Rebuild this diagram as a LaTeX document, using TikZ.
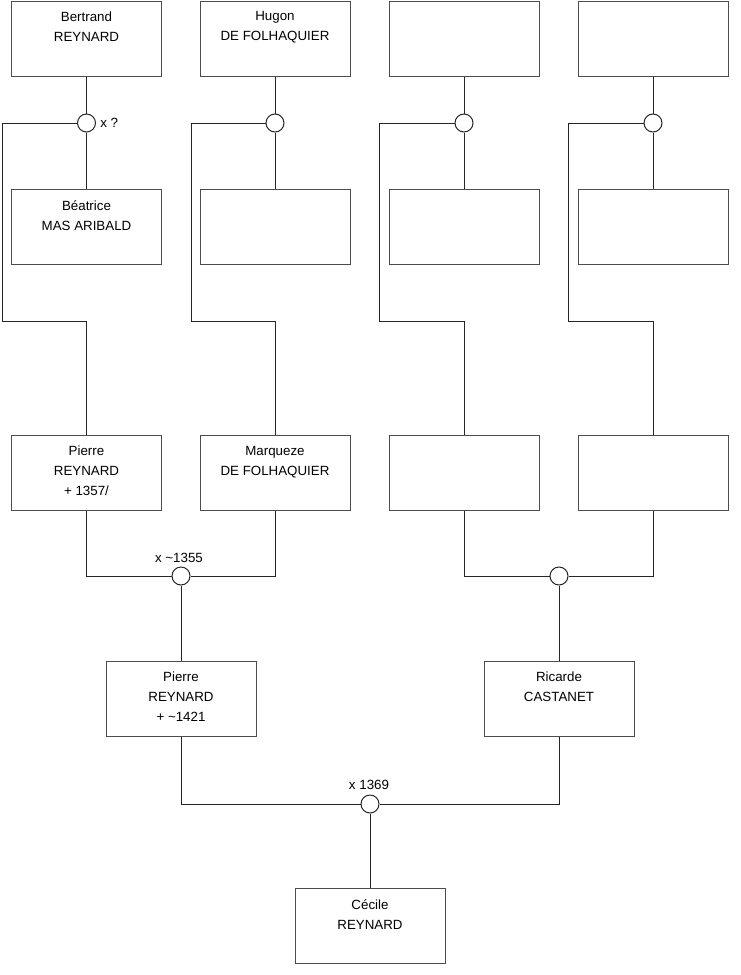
\documentclass[tikz,border=0pt]{standalone}
\usepackage{fontspec}
\setmainfont{Liberation Sans}
\begin{document}
\begin{tikzpicture}[x=0.75pt,y=-0.75pt,
  person/.style={draw=black!70,line width=0.75pt,minimum width=112.5pt,minimum height=56.25pt,inner sep=0pt},
  txt/.style={anchor=north,inner sep=0pt,align=center,font=\fontsize{10pt}{15pt}\selectfont,execute at begin node=\strut},
  lab/.style={inner sep=0pt,font=\fontsize{10pt}{15pt}\selectfont},
  union/.style={circle,draw=black!85,line width=0.75pt,minimum size=13.5pt,inner sep=0pt,fill=white},
  link/.style={draw=black!85,line width=0.75pt}]
\useasboundingbox (0,0) rectangle (740,975);
% row 1
\node[person] (a1) at (86.5,38.5) {};
\node[person] (a2) at (275,38.5) {};
\node[person] (a3) at (464,38.5) {};
\node[person] (a4) at (653,38.5) {};
% row 2
\node[person] (b1) at (86.5,227) {};
\node[person] (b2) at (275,227) {};
\node[person] (b3) at (464,227) {};
\node[person] (b4) at (653,227) {};
% row 3
\node[person] (c1) at (86.5,473) {};
\node[person] (c2) at (275,473) {};
\node[person] (c3) at (464,473) {};
\node[person] (c4) at (653,473) {};
% row 4
\node[person] (d1) at (181,699) {};
\node[person] (d2) at (559,699) {};
% final
\node[person] (e1) at (370,926) {};
% unions
\node[union] (u1) at (86.5,123) {};
\node[union] (u2) at (275,123) {};
\node[union] (u3) at (464,123) {};
\node[union] (u4) at (653,123) {};
\node[union] (v1) at (181,576) {};
\node[union] (v2) at (559,576) {};
\node[union] (w1) at (370,804) {};
% texts
\node[txt] (ta1) at ([yshift=-8.2pt]a1.north) {Bertrand\\REYNARD};
\node[txt] (ta2) at ([yshift=-8.2pt]a2.north) {Hugon\\DE FOLHAQUIER};
\node[txt] (tb1) at ([yshift=-8.2pt]b1.north) {Béatrice\\MAS ARIBALD};
\node[txt] (tc1) at ([yshift=-8.2pt]c1.north) {Pierre\\REYNARD\\+ 1357/};
\node[txt] (tc2) at ([yshift=-8.2pt]c2.north) {Marqueze\\DE FOLHAQUIER};
\node[txt] (td1) at ([yshift=-8.2pt]d1.north) {Pierre\\REYNARD\\+ \textasciitilde1421};
\node[txt] (td2) at ([yshift=-8.2pt]d2.north) {Ricarde\\CASTANET};
\node[txt] (te1) at ([yshift=-8.2pt]e1.north) {Cécile\\REYNARD};
% union labels
\node[lab,anchor=west] (lu1) at (100,123) {x ?};
\node[lab] (lv1) at (179,558) {x \textasciitilde1355};
\node[lab] (lw1) at (369,785) {x 1369};
% coordinates for bends
\coordinate (p1a) at (2,123);   \coordinate (p1b) at (2,321);   \coordinate (p1c) at (86.5,321);
\coordinate (p2a) at (191,123); \coordinate (p2b) at (191,321); \coordinate (p2c) at (275,321);
\coordinate (p3a) at (379,123); \coordinate (p3b) at (379,321); \coordinate (p3c) at (464,321);
\coordinate (p4a) at (568,123); \coordinate (p4b) at (568,321); \coordinate (p4c) at (653,321);
% row1 -> unions -> row2
\foreach \i in {1,2,3,4}{
  \draw[link] (a\i.south) -- (u\i.north);
  \draw[link] (u\i.south) -- (b\i.north);
  \draw[link] (u\i.west) -- (p\i a) -- (p\i b) -- (p\i c) -- (c\i.north);
}
% row3 -> unions
\draw[link] (c1.south) |- (v1.west);
\draw[link] (c2.south) |- (v1.east);
\draw[link] (c3.south) |- (v2.west);
\draw[link] (c4.south) |- (v2.east);
\draw[link] (v1.south) -- (d1.north);
\draw[link] (v2.south) -- (d2.north);
% row4 -> final union
\draw[link] (d1.south) |- (w1.west);
\draw[link] (d2.south) |- (w1.east);
\draw[link] (w1.south) -- (e1.north);
\end{tikzpicture}
\end{document}
